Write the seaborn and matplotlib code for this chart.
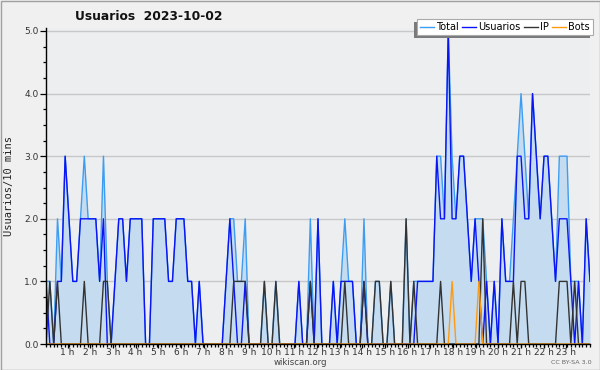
import numpy as np
import pandas as pd
import matplotlib
matplotlib.use('Agg')
import matplotlib.pyplot as plt
import seaborn as sns
from matplotlib.patches import Rectangle
from matplotlib.ticker import MultipleLocator, FixedLocator, FormatStrFormatter

# Data: one point every 10 min
title = 'Usuarios  2023-10-02'
series_names = ['Total', 'Usuarios', 'IP', 'Bots']
hours = list(range(1, 24))
hour_labels = [f'{h} h' for h in hours]

total = [1, 1, 0, 2, 1, 3, 2, 1, 1, 2, 3, 2, 2, 2, 1, 3, 1, 0, 1, 2,
         2, 1, 2, 2, 2, 2, 0, 0, 2, 2, 2, 2, 1, 1, 2, 2, 2, 1, 1, 0,
         1, 0, 0, 0, 0, 0, 0, 1, 2, 2, 1, 1, 2, 0, 0, 0, 0, 1, 0, 0,
         1, 0, 0, 0, 0, 0, 1, 0, 0, 2, 0, 2, 0, 0, 0, 1, 0, 1, 2, 1,
         1, 0, 0, 2, 0, 0, 1, 1, 0, 0, 1, 0, 0, 0, 2, 0, 1, 1, 1, 1,
         1, 1, 3, 3, 2, 5, 3, 2, 3, 3, 2, 1, 2, 2, 2, 1, 0, 1, 0, 2,
         1, 1, 2, 3, 4, 3, 2, 4, 3, 2, 3, 3, 2, 1, 3, 3, 3, 1, 1, 1,
         0, 2, 1]
usuarios = [1, 0, 0, 1, 1, 3, 2, 1, 1, 2, 2, 2, 2, 2, 1, 2, 0, 0, 1, 2,
            2, 1, 2, 2, 2, 2, 0, 0, 2, 2, 2, 2, 1, 1, 2, 2, 2, 1, 1, 0,
            1, 0, 0, 0, 0, 0, 0, 1, 2, 1, 0, 0, 1, 0, 0, 0, 0, 0, 0, 0,
            0, 0, 0, 0, 0, 0, 1, 0, 0, 1, 0, 2, 0, 0, 0, 1, 0, 1, 1, 1,
            1, 0, 0, 1, 0, 0, 0, 0, 0, 0, 0, 0, 0, 0, 0, 0, 0, 1, 1, 1,
            1, 1, 3, 2, 2, 5, 2, 2, 3, 3, 2, 1, 2, 1, 0, 1, 0, 1, 0, 2,
            1, 1, 1, 3, 3, 2, 2, 4, 3, 2, 3, 3, 2, 1, 2, 2, 2, 1, 0, 1,
            0, 2, 1]
ip = [0, 1, 0, 1, 0, 0, 0, 0, 0, 0, 1, 0, 0, 0, 0, 1, 1, 0, 0, 0,
      0, 0, 0, 0, 0, 0, 0, 0, 0, 0, 0, 0, 0, 0, 0, 0, 0, 0, 0, 0,
      0, 0, 0, 0, 0, 0, 0, 0, 0, 1, 1, 1, 1, 0, 0, 0, 0, 1, 0, 0,
      1, 0, 0, 0, 0, 0, 0, 0, 0, 1, 0, 0, 0, 0, 0, 0, 0, 0, 1, 0,
      0, 0, 0, 1, 0, 0, 1, 1, 0, 0, 1, 0, 0, 0, 2, 0, 1, 0, 0, 0,
      0, 0, 0, 1, 0, 0, 0, 0, 0, 0, 0, 0, 0, 0, 2, 0, 0, 0, 0, 0,
      0, 0, 1, 0, 1, 1, 0, 0, 0, 0, 0, 0, 0, 0, 1, 1, 1, 0, 1, 0,
      0, 0, 0]
bots = [0, 0, 0, 0, 0, 0, 0, 0, 0, 0, 0, 0, 0, 0, 0, 0, 0, 0, 0, 0,
        0, 0, 0, 0, 0, 0, 0, 0, 0, 0, 0, 0, 0, 0, 0, 0, 0, 0, 0, 0,
        0, 0, 0, 0, 0, 0, 0, 0, 0, 0, 0, 0, 0, 0, 0, 0, 0, 0, 0, 0,
        0, 0, 0, 0, 0, 0, 0, 0, 0, 0, 0, 0, 0, 0, 0, 0, 0, 0, 0, 0,
        0, 0, 0, 0, 0, 0, 0, 0, 0, 0, 0, 0, 0, 0, 0, 0, 0, 0, 0, 0,
        0, 0, 0, 0, 0, 0, 1, 0, 0, 0, 0, 0, 0, 1, 0, 0, 0, 0, 0, 0,
        0, 0, 0, 0, 0, 0, 0, 0, 0, 0, 0, 0, 0, 0, 0, 0, 0, 0, 0, 0,
        0, 0, 0]

colors = {'Total': '#3d9df2', 'Usuarios': '#0a14f5', 'IP': '#333333', 'Bots': '#ff9a10'}
fill_color = '#c5dcf0'

df = pd.DataFrame({'step': np.arange(len(total)), 'Total': total,
                   'Usuarios': usuarios, 'IP': ip, 'Bots': bots})

plt.rcParams['font.family'] = ['DejaVu Sans']

W, H = 600, 370
fig = plt.figure(figsize=(6, 3.7), dpi=100, facecolor='#f0f0f0')
# plot area: x 46..590 px, y0 at 344 px, 62.6 px per unit
ax = fig.add_axes([46 / W, 1 - 344 / H, 544 / W, 316 / H])
ax.set_facecolor('#edeef0')

ax.fill_between(df['step'], df['Total'], color=fill_color, lw=0, zorder=1)
for name in series_names:
    sns.lineplot(data=df, x='step', y=name, ax=ax, color=colors[name],
                 lw=1.0, label=name, legend=False, zorder=2)

n = len(total)
ax.set_xlim(0, n - 1)
ax.set_ylim(0, 316 / 62.6)

# axes styling
for s in ['top', 'right']:
    ax.spines[s].set_visible(False)
for s in ['left', 'bottom']:
    ax.spines[s].set_color('black')
    ax.spines[s].set_linewidth(1.0)
ax.yaxis.set_major_locator(MultipleLocator(1))
ax.yaxis.set_minor_locator(MultipleLocator(0.25))
ax.yaxis.set_major_formatter(FormatStrFormatter('%.1f'))
ax.yaxis.grid(True, which='major', color='#c8c8c8', lw=1)
ax.set_axisbelow(True)

hour_pos = [h * (n - 1) / 24 - 0.3 for h in hours]
ax.xaxis.set_major_locator(FixedLocator(hour_pos))
ax.set_xticklabels(hour_labels)
ax.xaxis.set_minor_locator(MultipleLocator(1))
ax.tick_params(axis='y', which='major', length=4, width=0.9, labelsize=6.5,
               colors='black', labelcolor='#333333', pad=1.5)
ax.tick_params(axis='x', which='major', length=3, width=0.9, labelsize=6.5,
               colors='black', labelcolor='#333333', pad=0.2)
ax.tick_params(axis='both', which='minor', length=2.5, width=0.9, colors='black')
ax.set_xlabel('')
ax.set_ylabel('')

# texts
fig.text(75 / W, 1 - 17 / H, title, fontsize=8.8, fontweight='bold',
         ha='left', va='center', color='#111111')
fig.text(9 / W, 1 - 186 / H, 'Usuarios/10 mins', rotation=90, fontsize=7.5,
         family='DejaVu Sans Mono', ha='center', va='center', color='#222222')
fig.text(300 / W, 1 - 362.5 / H, 'wikiscan.org', fontsize=6.2, ha='center',
         va='center', color='#444444')
fig.text(571 / W, 1 - 362.5 / H, 'CC BY-SA 3.0', fontsize=4.6, ha='center',
         va='center', color='#666666')

# legend with dark shadow down-left
handles, labels = ax.get_legend_handles_labels()
leg = fig.legend(handles, labels, loc='upper right', bbox_to_anchor=(593 / W, 1 - 19 / H),
                 ncol=4, fontsize=7, frameon=True, fancybox=False, framealpha=1,
                 edgecolor='#aaaaaa', handlelength=1.4, handletextpad=0.25,
                 columnspacing=0.35, borderpad=0.3, borderaxespad=0)
leg.get_frame().set_linewidth(0.8)
fig.canvas.draw()
bb = leg.get_window_extent().transformed(fig.transFigure.inverted())
fig.add_artist(Rectangle((bb.x0 - 3 / W, bb.y0 - 3 / H), bb.width, bb.height,
                         transform=fig.transFigure, color='#7a7a7a', lw=0,
                         zorder=leg.get_zorder() - 1))

# outer border
fig.add_artist(Rectangle((0.5 / W, 0.5 / H), 1 - 1 / W, 1 - 1 / H, transform=fig.transFigure,
                         fill=False, ec='#a0a0a0', lw=1))

fig.savefig('out.png', dpi=100, facecolor=fig.get_facecolor())
